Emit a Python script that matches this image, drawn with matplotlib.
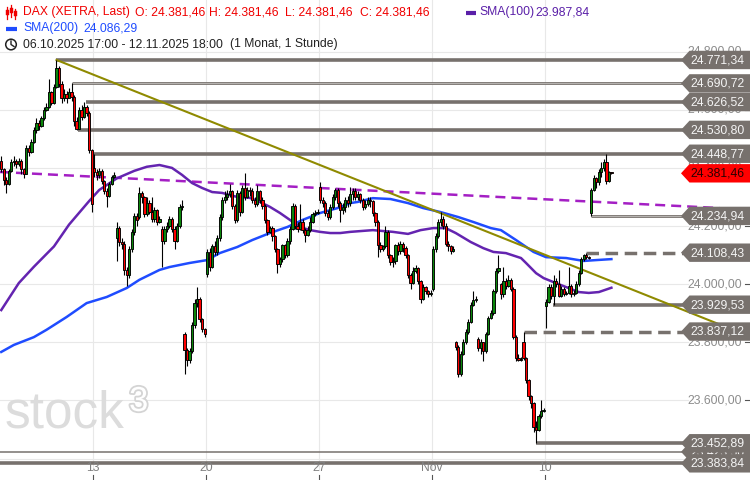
import numpy as np
import matplotlib
matplotlib.use("Agg")
import matplotlib.pyplot as plt
from matplotlib.patches import Rectangle, Polygon, Circle
from matplotlib.transforms import blended_transform_factory
import matplotlib.patheffects as pe

plt.rcParams['font.family'] = ['Liberation Sans', 'DejaVu Sans']

# ---------------- data (hourly candles, 06.10.2025 17:00 - 12.11.2025) ----------------
day_labels = ["06.10", "07.10", "08.10", "09.10", "10.10", "13.10", "14.10", "15.10", "16.10",
              "17.10", "20.10", "21.10", "22.10", "23.10", "24.10", "27.10", "28.10", "29.10",
              "30.10", "31.10", "03.11", "04.11", "05.11", "06.11", "07.11", "10.11", "11.11", "12.11"]
day_sizes = [1] + [9] * 27
day_opens = [24425, 24395, 24380, 24610, 24660, 24400, 24160, 24230, 24190, 23830, 24035, 24310,
             24320, 24165, 24200, 24335, 24255, 24265, 24180, 24030, 23985, 23800, 23810, 24000,
             23800, 23925, 23970, 24245]

closes = [
    24395,
    24360, 24345, 24390, 24420, 24425, 24415, 24425, 24395, 24380,
    24470, 24455, 24490, 24530, 24555, 24545, 24570, 24600, 24610,
    24660, 24625, 24680, 24745, 24690, 24640, 24655, 24640, 24660,
    24645, 24560, 24535, 24600, 24575, 24610, 24590, 24460, 24275,
    24385, 24375, 24390, 24355, 24320, 24305, 24345, 24370, 24375,
    24195, 24145, 24140, 24050, 24030, 24120, 24180, 24235, 24220,
    24315, 24300, 24240, 24280, 24250, 24225, 24255, 24215, 24225,
    24150, 24190, 24200, 24225, 24190, 24150, 24200, 24265, 24270,
    23775, 23740, 23770, 23860, 23935, 23950, 23880, 23845, 23830,
    24110, 24060, 24130, 24110, 24160, 24230, 24290, 24300, 24310,
    24320, 24270, 24220, 24315, 24250, 24330, 24300, 24325, 24320,
    24290, 24275, 24320, 24290, 24270, 24220, 24180, 24195, 24165,
    24120, 24070, 24085, 24135, 24100, 24150, 24190, 24270, 24200,
    24190, 24215, 24185, 24170, 24185, 24215, 24240, 24245, 24250,
    24290, 24280, 24245, 24230, 24265, 24300, 24325, 24280, 24255,
    24265, 24290, 24280, 24310, 24320, 24300, 24310, 24290, 24265,
    24275, 24290, 24285, 24245, 24215, 24135, 24120, 24130, 24180,
    24100, 24075, 24080, 24135, 24115, 24140, 24125, 24100, 24030,
    24005, 24045, 24055, 24010, 23950, 23990, 23975, 23965, 23970,
    24120, 24165, 24215, 24225, 24200, 24140, 24130, 24115, 24122,
    23785, 23690, 23760, 23800, 23835, 23870, 23930, 23945, 23950,
    23780, 23800, 23770, 23830, 23885, 23900, 23975, 24045, 24055,
    23965, 24010, 23995, 24015, 23985, 23820, 23745, 23740, 23742,
    23745, 23670, 23615, 23590, 23510, 23500, 23545, 23565, 23568,
    23940, 23990, 23960, 24010, 24000, 23960, 23985, 23965, 23970,
    23995, 23965, 23970, 24000, 24040, 24085, 24100, 24095, 24090,
    24325, 24365, 24350, 24385, 24400, 24420, 24355, 24385, 24381.46,
]

highs = [
    24440,
    24400, 24370, 24395, 24430, 24440, 24430, 24435, 24430, 24400,
    24480, 24480, 24500, 24540, 24570, 24565, 24580, 24610, 24625,
    24705, 24665, 24690, 24771.34, 24750, 24700, 24670, 24665, 24675,
    24690.72, 24650, 24575, 24610, 24615, 24626.52, 24615, 24595, 24465,
    24448.77, 24395, 24400, 24395, 24360, 24330, 24350, 24375, 24385,
    24215, 24200, 24160, 24150, 24060, 24130, 24190, 24245, 24245,
    24335, 24320, 24305, 24300, 24290, 24300, 24265, 24260, 24235,
    24200, 24200, 24215, 24235, 24230, 24200, 24210, 24275, 24290,
    23835, 23780, 23780, 23870, 23950, 23990, 23955, 23885, 23850,
    24120, 24125, 24140, 24150, 24170, 24240, 24300, 24320, 24325,
    24345, 24325, 24275, 24325, 24320, 24340, 24384, 24335, 24335,
    24330, 24300, 24340, 24325, 24300, 24275, 24225, 24200, 24200,
    24170, 24125, 24095, 24140, 24140, 24160, 24200, 24280, 24275,
    24215, 24275, 24225, 24195, 24200, 24230, 24250, 24255, 24260,
    24350, 24300, 24285, 24255, 24275, 24310, 24330, 24330, 24285,
    24280, 24300, 24305, 24336, 24330, 24330, 24320, 24315, 24295,
    24290, 24300, 24300, 24290, 24250, 24220, 24145, 24135, 24200,
    24185, 24105, 24095, 24140, 24145, 24150, 24145, 24130, 24105,
    24040, 24060, 24065, 24060, 24015, 24000, 23995, 23980, 23980,
    24130, 24175, 24225, 24250, 24235, 24210, 24150, 24135, 24130,
    23805, 23790, 23770, 23810, 23845, 23880, 23940, 23975, 23960,
    23820, 23810, 23800, 23835, 23890, 23910, 23985, 24055, 24100,
    24005, 24060, 24020, 24030, 24020, 23990, 23825, 23760, 23750,
    23837.12, 23750, 23675, 23620, 23595, 23530, 23555, 23600, 23575,
    23950, 24000, 24000, 24030, 24020, 24050, 23995, 23990, 23975,
    24060, 24000, 23980, 24010, 24050, 24095, 24105, 24108.43, 24098,
    24330, 24375, 24370, 24395, 24420, 24430, 24448.77, 24390, 24385,
]

lows = [
    24385,
    24340, 24315, 24340, 24385, 24405, 24400, 24405, 24380, 24365,
    24380, 24440, 24450, 24485, 24520, 24530, 24540, 24565, 24595,
    24605, 24615, 24620, 24675, 24680, 24625, 24630, 24625, 24645,
    24630, 24545, 24530.80, 24535, 24565, 24570, 24580, 24450, 24250,
    24370, 24360, 24365, 24345, 24310, 24265, 24300, 24340, 24365,
    24080, 24130, 24120, 24030, 23995, 24020, 24110, 24170, 24200,
    24225, 24280, 24230, 24235, 24240, 24215, 24215, 24205, 24210,
    24060, 24140, 24180, 24195, 24180, 24120, 24145, 24195, 24255,
    23690, 23720, 23730, 23765, 23850, 23920, 23870, 23835, 23820,
    24025, 24045, 24055, 24100, 24100, 24150, 24220, 24280, 24290,
    24300, 24260, 24210, 24215, 24235, 24245, 24290, 24295, 24305,
    24280, 24265, 24270, 24280, 24260, 24210, 24170, 24175, 24150,
    24110, 24040, 24060, 24075, 24090, 24095, 24140, 24185, 24190,
    24180, 24185, 24175, 24145, 24165, 24180, 24210, 24235, 24240,
    24280, 24265, 24235, 24220, 24225, 24260, 24290, 24265, 24215,
    24240, 24250, 24265, 24270, 24290, 24290, 24290, 24280, 24255,
    24260, 24270, 24265, 24235, 24200, 24095, 24110, 24115, 24125,
    24090, 24065, 24060, 24070, 24100, 24105, 24110, 24090, 24020,
    23985, 24000, 24040, 24000, 23935, 23945, 23965, 23955, 23960,
    23975, 24110, 24160, 24200, 24190, 24130, 24115, 24105, 24110,
    23775, 23680, 23685, 23755, 23795, 23830, 23865, 23925, 23940,
    23770, 23760, 23735, 23765, 23825, 23880, 23895, 23970, 24040,
    23950, 23955, 23985, 23990, 23975, 23810, 23735, 23735, 23735,
    23740, 23660, 23600, 23575, 23490, 23452.89, 23495, 23540, 23560,
    23850, 23935, 23950, 23929.53, 23990, 23955, 23955, 23960, 23962,
    23965, 23955, 23960, 23965, 23995, 24035, 24080, 24088, 24085,
    24234.94, 24320, 24330, 24340, 24370, 24390, 24345, 24350, 24378,
]

# moving averages (at candle indices)
sma100_idx = [0, 7, 13, 21, 27, 35, 39, 46, 53, 58, 63, 68, 72, 76, 80, 84, 88, 94, 99, 103, 107,
              111, 115, 119, 123, 127, 131, 135, 139, 148, 156, 162, 167, 172, 177, 181, 187, 192,
              196, 201, 207, 209, 213, 216, 220, 225, 230, 234, 238, 243]
sma100 = [23911, 24004, 24060, 24130, 24205, 24286, 24324, 24364, 24390, 24404, 24410, 24400,
          24376, 24348, 24331, 24317, 24314, 24300, 24297, 24283, 24266, 24245, 24221, 24197,
          24186, 24180, 24176, 24176, 24180, 24186, 24180, 24173, 24186, 24193, 24193, 24176,
          24145, 24124, 24111, 24107, 24090, 24073, 24038, 24021, 24007, 23990, 23973, 23970,
          23973, 23987.84]
sma200_idx = [0, 5, 13, 18, 26, 34, 42, 50, 55, 63, 67, 75, 82, 87, 94, 100, 107, 114, 120, 127,
              134, 139, 142, 148, 155, 162, 168, 175, 182, 188, 195, 199, 205, 212, 217, 225, 232,
              237, 243]
sma200 = [23767, 23791, 23818, 23843, 23887, 23935, 23956, 23987, 24015, 24049, 24059, 24073,
          24083, 24107, 24128, 24152, 24176, 24197, 24221, 24245, 24262, 24279, 24283, 24296,
          24293, 24279, 24262, 24248, 24231, 24214, 24193, 24186, 24152, 24111, 24093, 24090,
          24080, 24083, 24086.29]

# trend lines
trend_x = [22, 285.4]
trend_y = [24771.34, 23864]
avg_line_x = [-0.5, 286]
avg_line_y = [24386, 24262]

# horizontal levels
level_vals = [23423.50, 24771.34, 24690.72, 24626.52, 24530.80, 24448.77, 24234.94, 24108.43,
              23929.53, 23837.12, 23452.89, 23383.84]
level_start = [-0.5, 22, 28, 33.6, 30.6, 37, 235, 233, 219.7, 208, 213, -0.5]
level_dashed = [False, False, False, False, False, False, False, True, False, True, False, False]
level_thin = [True, False, True, False, False, False, True, False, False, False, False, False]

last_price = 24381.46
yticks = [24800, 24600, 24400, 24200, 24000, 23800, 23600, 23400]
week_ticks = [36.5, 81.5, 126.5, 171.5, 216.5]
week_labels = ["13", "20", "27", "Nov", "10"]


def de(v):
    s = f"{v:,.2f}"
    return s.replace(",", "X").replace(".", ",").replace("X", ".")


# ---------------- figure ----------------
W, H = 750, 480
fig = plt.figure(figsize=(W / 100, H / 100), dpi=100)
ax = fig.add_axes([0, 0, 1, 1])
ax.set_xlim(-0.5, 298.2)
ax.set_ylim(23326.5, 24977.6)
ax.axis('off')
PX_PER_IDX = W / (298.2 + 0.5)
PTS_PER_PX = (24977.6 - 23326.5) / H


def px2idx(px):
    return px / PX_PER_IDX - 0.5


bt = blended_transform_factory(ax.transAxes, ax.transData)

# grid
for yv in yticks:
    ax.plot([0, 688 / W], [yv, yv], transform=bt, color='#e8e8e8', lw=0.8, zorder=0)
for xv in week_ticks:
    ax.plot([xv, xv], [23360, 24977.6], color='#e8e8e8', lw=0.8, zorder=0)

# horizontal levels
x_end = px2idx(683)
for v, s, d, thin in zip(level_vals, level_start, level_dashed, level_thin):
    if d:
        ax.plot([s, x_end], [v, v], color='#77716d', lw=2.5, dashes=(3.6, 1.9), zorder=1,
                solid_capstyle='butt', dash_capstyle='butt')
    elif thin:
        if v > 23500:
            ax.plot([s, x_end], [v, v], color='#77716d', lw=2.0, zorder=1, solid_capstyle='butt')
            ax.plot([s, x_end], [v, v], color='#b8b5b2', lw=0.7, zorder=1, solid_capstyle='butt')
        else:
            ax.plot([s, x_end], [v, v], color='#77716d', lw=1.1, zorder=1, solid_capstyle='butt')
    else:
        ax.plot([s, x_end], [v, v], color='#77716d', lw=2.6, zorder=1, solid_capstyle='butt')

# lines
ax.plot(avg_line_x, avg_line_y, color='#a41fc4', lw=1.8, dashes=(4, 2.4), zorder=2)
ax.plot(sma200_idx, sma200, color='#1f4cff', lw=1.8, zorder=2)
ax.plot(sma100_idx, sma100, color='#6424b0', lw=1.8, zorder=2)
ax.plot(trend_x, trend_y, color='#8f8a00', lw=1.5, zorder=2.5)

# candles
opens = []
k = 0
for d, n in enumerate(day_sizes):
    for j in range(n):
        opens.append(day_opens[d] if j == 0 else closes[k - 1])
        k += 1

bw = 0.9
min_h = 1.0 * PTS_PER_PX
for i, (o, c, h, l) in enumerate(zip(opens, closes, highs, lows)):
    h = max(h, o, c)
    l = min(l, o, c)
    ax.plot([i, i], [l, h], color='black', lw=0.8, zorder=3, solid_capstyle='butt')
    lo_b = min(o, c)
    hb = max(abs(c - o), min_h)
    col = '#0a860a' if c >= o else '#ff0000'
    ax.add_patch(Rectangle((i - bw / 2, lo_b), bw, hb, facecolor=col, edgecolor='black',
                           lw=0.65, zorder=3.5))

# right y tick labels
for yv in yticks:
    ax.text(742 / W, yv, de(yv), transform=bt, ha='right', va='center', fontsize=8.7,
            color='#8c8c8c', zorder=4)
    ax.plot([745 / W, 749 / W], [yv, yv], transform=bt, color='#555555', lw=0.8, zorder=4)

# level label boxes
half = 9.2 * PTS_PER_PX


def label_box(v, face, tcol, z):
    poly = Polygon([(681 / W, v), (689.5 / W, v + half), (1.0, v + half), (1.0, v - half),
                    (689.5 / W, v - half)], closed=True, transform=bt, facecolor=face,
                   edgecolor='none', zorder=z)
    ax.add_patch(poly)
    ax.text(690 / W, v - 0.4 * PTS_PER_PX, de(v), transform=bt, ha='left', va='center',
            fontsize=8.7, color=tcol, zorder=z + 0.1)


for n, v in enumerate(level_vals):
    label_box(v, '#77716d', '#f4f4f4', 5 + 0.2 * n)
label_box(last_price, '#ff0000', '#2a0000', 9)

# x tick labels
for xv, lab in zip(week_ticks, week_labels):
    ax.text(xv, 23326.5 + 11.5 * PTS_PER_PX, lab, ha='center', va='center', fontsize=8.7,
            color='#808080', zorder=4)
    ax.plot([xv, xv], [23326.5, 23326.5 + 5 * PTS_PER_PX], color='#555555', lw=0.8, zorder=4)

# ---------------- overlay in pixel coords: header + watermark ----------------
ov = fig.add_axes([0, 0, 1, 1], facecolor='none')
ov.set_xlim(0, W)
ov.set_ylim(H, 0)
ov.axis('off')

fs = 8.7
red = '#f00000'
# candle icon
for xx, y1, y2, b1, b2 in [(7, 7, 19, 10, 15), (11, 5, 17, 8, 13), (15, 9, 19, 11, 16)]:
    ov.plot([xx, xx], [y1, y2], color=red, lw=0.9)
    ov.add_patch(Rectangle((xx - 1.5, b1), 3, b2 - b1, facecolor=red, edgecolor=red, lw=0.3))
ov.text(23, 12.5, "DAX (XETRA, Last)", fontsize=fs, color=red, va='center')
ov.text(135, 12.5, "O: 24.381,46", fontsize=fs, color=red, va='center')
ov.text(209, 12.5, "H: 24.381,46", fontsize=fs, color=red, va='center')
ov.text(285, 12.5, "L: 24.381,46", fontsize=fs, color=red, va='center')
ov.text(360, 12.5, "C: 24.381,46", fontsize=fs, color=red, va='center')
ov.plot([466, 476], [12.5, 12.5], color='#5a1fa8', lw=3, solid_capstyle='butt')
ov.text(479, 12.5, "SMA(100)", fontsize=fs, color='#5a1fa8', va='center')
ov.text(535, 12.5, "23.987,84", fontsize=fs, color='#5a1fa8', va='center')

ov.plot([6, 17], [28.5, 28.5], color='#1f4cff', lw=3, solid_capstyle='butt')
ov.text(23, 28.5, "SMA(200)", fontsize=fs, color='#1f4cff', va='center')
ov.text(83, 28.5, "24.086,29", fontsize=fs, color='#1f4cff', va='center')

ov.add_patch(Circle((11, 44.5), 5.3, facecolor='none', edgecolor='#222222', lw=1.1))
ov.plot([11, 11, 14], [41, 44.5, 46.5], color='#222222', lw=1.0)
ov.text(23, 44.5, "06.10.2025 17:00 - 12.11.2025 18:00", fontsize=fs, color='#222222',
        va='center')
ov.text(230, 44.5, "(1 Monat, 1 Stunde)", fontsize=fs, color='#222222', va='center')

# watermark
ov.text(5, 427, "stock", fontsize=37, color='#dcdcdc', va='baseline', ha='left', zorder=0.5)
t3 = ov.text(129, 411, "3", fontsize=25, color='white', va='baseline', ha='left', zorder=0.5)
t3.set_path_effects([pe.Stroke(linewidth=2.6, foreground='#d4d4d4'), pe.Normal()])

fig.savefig("out.png", dpi=100)
